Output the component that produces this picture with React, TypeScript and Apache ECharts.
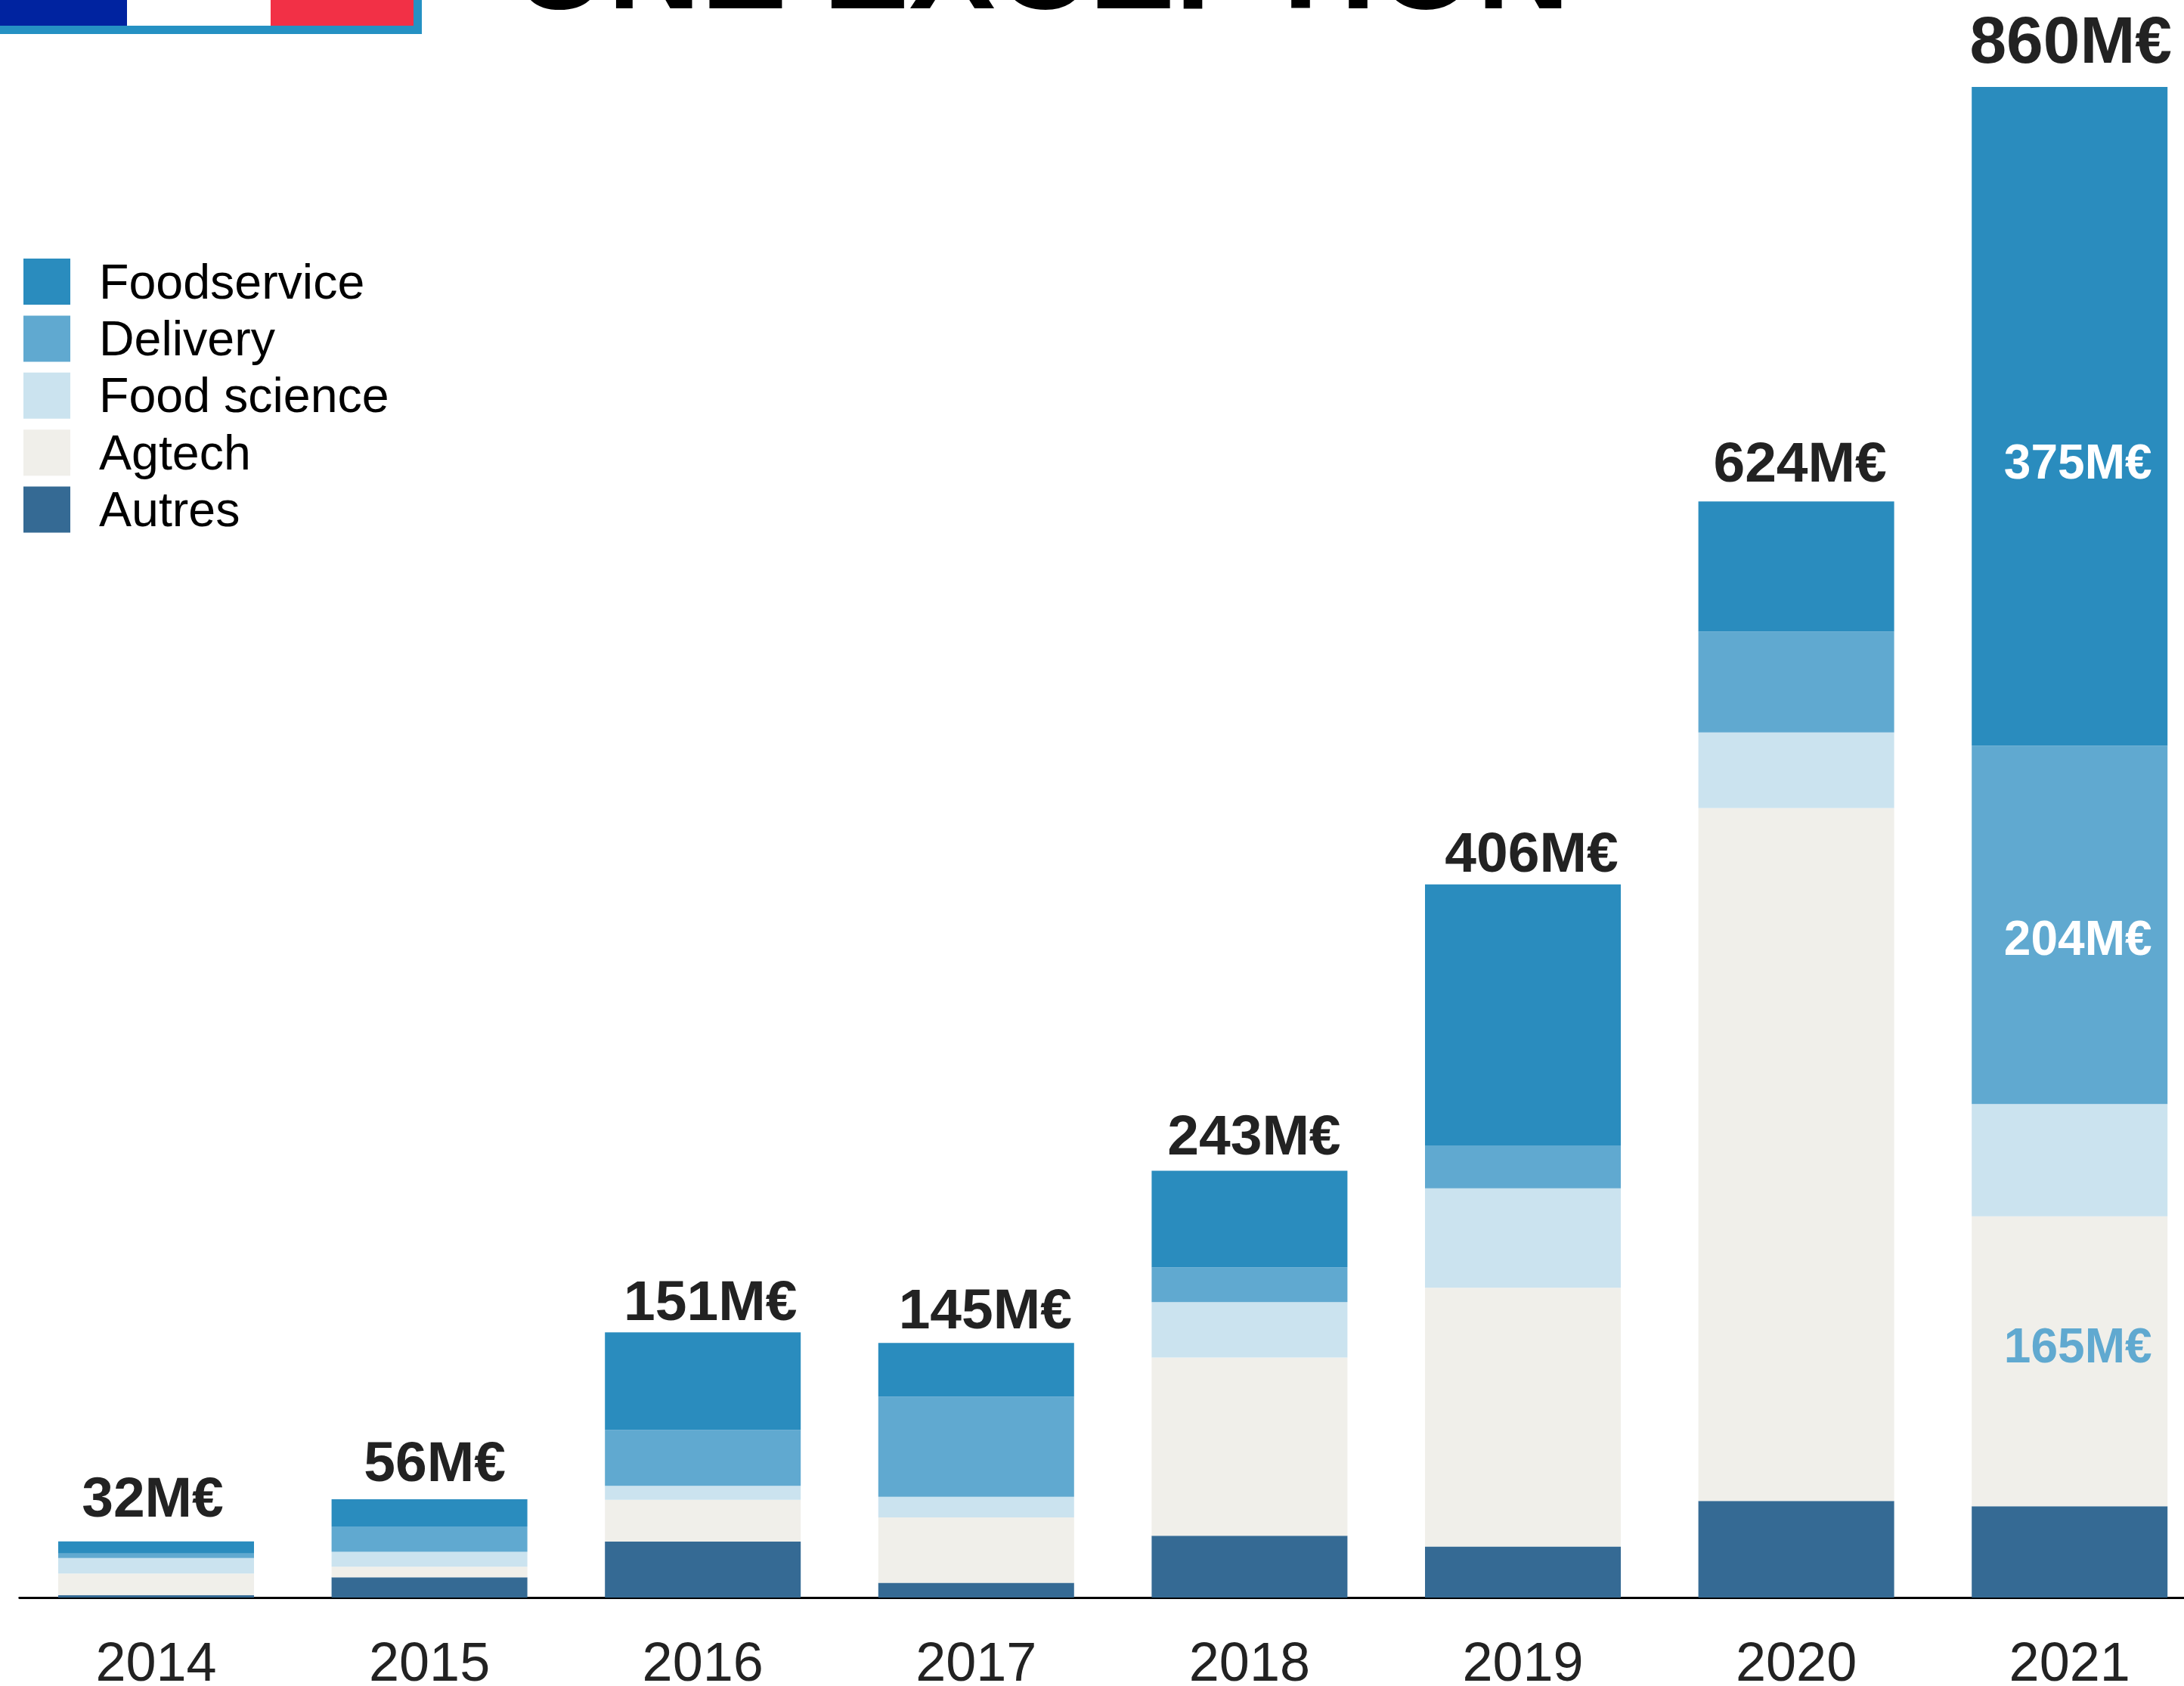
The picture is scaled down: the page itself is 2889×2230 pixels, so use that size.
import React, { useEffect, useRef } from "react";
import * as echarts from "echarts";

const years = ["2014", "2015", "2016", "2017", "2018", "2019", "2020", "2021"];
const foodservice = [6.9, 15.5, 55.6, 30.6, 55, 148.6, 74, 375];
const delivery = [2.6, 14.5, 31.8, 57, 19.8, 24.4, 57.5, 204];
const foodScience = [8.8, 8.5, 8, 11.8, 31.5, 56.6, 43, 64];
const agtech = [12.3, 6, 23.8, 37.2, 101.5, 147.3, 394.5, 165];
const autres = [1.4, 11.5, 31.8, 8.4, 35.2, 29.1, 55, 52];
const totals = [32, 56, 151, 145, 243, 406, 624, 860];

const legendOrder = ["Foodservice", "Delivery", "Food science", "Agtech", "Autres"];

const BLUE = "#2A8CBE";
const MID_BLUE = "#60A9D0";
const PALE_BLUE = "#CBE3EF";
const SAND = "#F0EFEA";
const NAVY = "#356A94";
const INK = "#222222";
const FONT = '"Liberation Sans", Helvetica, Arial, sans-serif';

// Hand-placed nudges of the total captions above each bar.
const totalNudgeX = [-4.5, 7, 10, 12, 6, 11.5, 5, 1.5];
const totalNudgeY = [-20.7, -12, -5, -8, -10, -5, -15, -18];

const LAST = years.length - 1;

// Only the 2021 column states its segment values.
function segmentData(values: number[], color?: string, nudgeY = 0) {
  return values.map((value, i) =>
    i === LAST && color
      ? {
          value,
          label: {
            show: true,
            position: "inside",
            formatter: `${value}M€`,
            color,
            fontFamily: FONT,
            fontWeight: "bold",
            fontSize: 64,
            offset: [11, nudgeY],
          },
        }
      : value
  );
}

function stacked(name: string, color: string, data: unknown[]) {
  return {
    name,
    type: "bar",
    stack: "total",
    barWidth: 259,
    barGap: "-100%",
    itemStyle: { color },
    data,
  };
}

export default function App() {
  const ref = useRef<HTMLDivElement>(null);

  useEffect(() => {
    const chart = echarts.init(ref.current!, undefined, { renderer: "svg" });
    chart.setOption({
      animation: false,
      backgroundColor: "#FFFFFF",
      grid: { left: 25.7, top: 115, width: 2892.8, height: 1998, outerBoundsMode: "none" },
      legend: {
        data: legendOrder,
        orient: "vertical",
        left: 31,
        top: 340,
        padding: 0,
        icon: "rect",
        itemWidth: 62,
        itemHeight: 61,
        itemGap: 10.4,
        selectedMode: false,
        textStyle: {
          fontFamily: FONT,
          fontSize: 64.5,
          lineHeight: 61,
          color: "#000000",
          padding: [0, 0, 0, 33],
        },
      },
      xAxis: {
        type: "category",
        data: years,
        offset: 1.3,
        axisLine: { lineStyle: { color: "#000000", width: 2.8 } },
        axisTick: { show: false },
        axisLabel: {
          interval: 0,
          fontFamily: FONT,
          fontSize: 72,
          lineHeight: 56,
          color: INK,
          margin: 56,
        },
      },
      yAxis: { type: "value", min: 0, max: 860, show: false },
      series: [
        stacked("Autres", NAVY, autres),
        stacked("Agtech", SAND, segmentData(agtech, MID_BLUE, -21)),
        stacked("Food science", PALE_BLUE, foodScience),
        stacked("Delivery", MID_BLUE, segmentData(delivery, "#FFFFFF", 18)),
        stacked("Foodservice", BLUE, segmentData(foodservice, "#FFFFFF", 60)),
        {
          // Invisible column carrying the caption with each year's total.
          name: "Total",
          type: "bar",
          barWidth: 259,
          barGap: "-100%",
          itemStyle: { color: "rgba(0,0,0,0)" },
          data: totals.map((value, i) => ({
            value,
            label: {
              show: true,
              position: "top",
              distance: 0,
              formatter: `${value}M€`,
              color: INK,
              fontFamily: FONT,
              fontWeight: "bold",
              fontSize: i === LAST ? 87.5 : 75,
              offset: [totalNudgeX[i], totalNudgeY[i]],
            },
          })),
        },
      ],
      graphic: [
        { type: "rect", shape: { x: 0, y: 0, width: 558, height: 45 }, style: { fill: "#2591C3" } },
        { type: "rect", shape: { x: 0, y: 0, width: 168, height: 34 }, style: { fill: "#0023A0" } },
        { type: "rect", shape: { x: 168, y: 0, width: 190, height: 34 }, style: { fill: "#FFFFFF" } },
        { type: "rect", shape: { x: 358, y: 0, width: 189, height: 34 }, style: { fill: "#F23046" } },
        {
          type: "text",
          x: 680,
          y: -49,
          style: {
            text: "UNE EXCEPTION",
            fill: "#000000",
            font: `bold 171px ${FONT}`,
            textVerticalAlign: "middle",
          },
        },
      ],
    });
    return () => chart.dispose();
  }, []);

  return (
    <div
      ref={ref}
      style={{ position: "fixed", left: 0, top: 0, width: 2889, height: 2230 }}
    />
  );
}
